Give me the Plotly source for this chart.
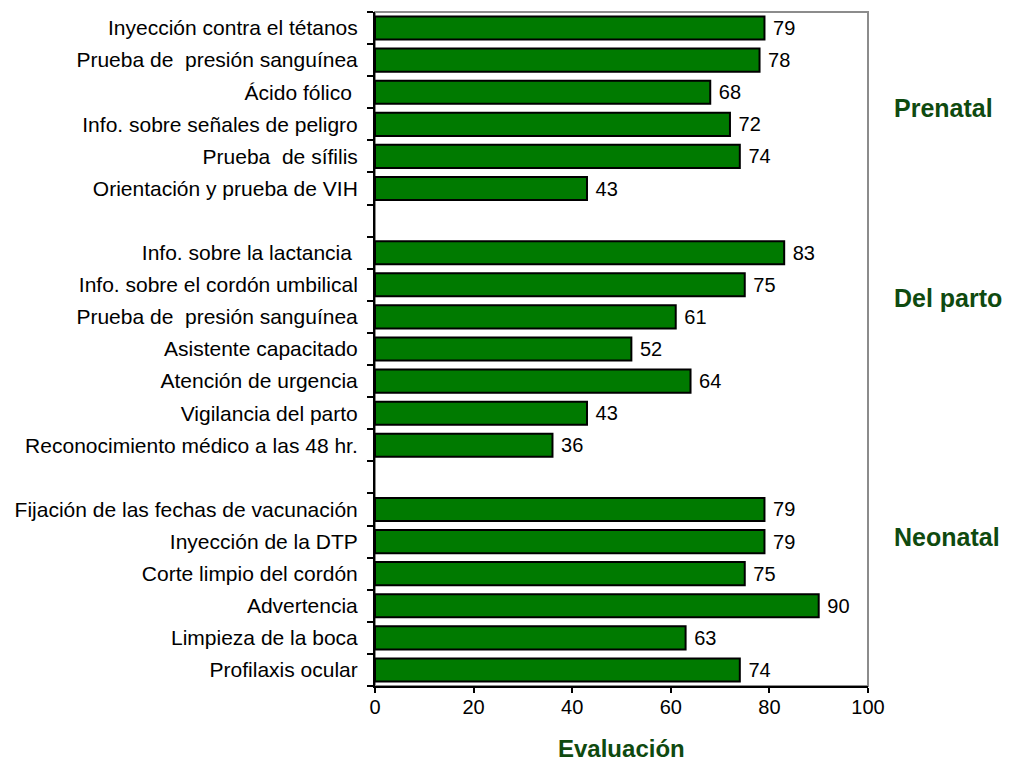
import plotly.graph_objects as go

# Service items and their scores, grouped by stage of care
prenatal_labels = [
    "Inyección contra el tétanos",
    "Prueba de \u00a0presión sanguínea",
    "Ácido fólico\u00a0",
    "Info. sobre señales de peligro",
    "Prueba \u00a0de sífilis",
    "Orientación y prueba de VIH",
]
prenatal_values = [79, 78, 68, 72, 74, 43]

parto_labels = [
    "Info. sobre la lactancia\u00a0",
    "Info. sobre el cordón umbilical",
    "Prueba de \u00a0presión sanguínea",
    "Asistente capacitado",
    "Atención de urgencia",
    "Vigilancia del parto",
    "Reconocimiento médico a las 48 hr.",
]
parto_values = [83, 75, 61, 52, 64, 43, 36]

neonatal_labels = [
    "Fijación de las fechas de vacunación",
    "Inyección de la DTP",
    "Corte limpio del cordón",
    "Advertencia",
    "Limpieza de la boca",
    "Profilaxis ocular",
]
neonatal_values = [79, 79, 75, 90, 63, 74]

group_names = ["Prenatal", "Del parto", "Neonatal"]
x_ticks = [0, 20, 40, 60, 80, 100]

# Lay the groups out top to bottom with one empty row between them
groups = [
    (prenatal_labels, prenatal_values),
    (parto_labels, parto_values),
    (neonatal_labels, neonatal_values),
]
positions, labels, values = [], [], []
row = 0
for g_labels, g_values in groups:
    for lab, val in zip(g_labels, g_values):
        positions.append(row)
        labels.append(lab)
        values.append(val)
        row += 1
    row += 1
last_row = positions[-1]

BAR = "#007a00"
DARK = "#0f4a0f"
FONT = "Liberation Sans, Arial, sans-serif"

fig = go.Figure(
    go.Bar(
        x=values,
        y=positions,
        orientation="h",
        width=0.72,
        marker=dict(color=BAR, line=dict(color="black", width=2)),
        text=values,
        texttemplate="\u00a0%{x}",
        textposition="outside",
        constraintext="none",
        cliponaxis=False,
        textfont=dict(family=FONT, size=20, color="black"),
        hoverinfo="skip",
    )
)

# Group titles on the right, placed beside their rows
label_rows = [2.5, 8.4, 15.85]
annotations = []
for name, yv in zip(group_names, label_rows):
    annotations.append(
        dict(
            text=f"<b>{name}</b>",
            xref="paper", yref="y",
            x=1, y=yv,
            xanchor="left", yanchor="middle",
            xshift=24,
            showarrow=False,
            font=dict(family=FONT, size=25, color=DARK),
        )
    )
annotations.append(
    dict(
        text="<b>Evaluación</b>",
        xref="paper", yref="paper",
        x=0.5, y=0,
        xanchor="center", yanchor="middle",
        yshift=-62,
        showarrow=False,
        font=dict(family=FONT, size=24, color=DARK),
    )
)

boundaries = [i - 0.5 for i in range(last_row + 2)]

fig.update_layout(
    width=1011,
    height=761,
    margin=dict(l=375, r=143, t=12, b=75),
    paper_bgcolor="white",
    plot_bgcolor="white",
    showlegend=False,
    font=dict(family=FONT, size=20, color="black"),
    annotations=annotations,
    shapes=[
        dict(
            type="rect", xref="paper", yref="paper",
            x0=0, x1=1, y0=0, y1=1,
            line=dict(color="#8c8c8c", width=2),
            layer="below",
        )
    ],
    xaxis=dict(
        range=[0, 100],
        tickmode="array",
        tickvals=x_ticks,
        ticks="outside",
        ticklen=5,
        tickwidth=2,
        tickcolor="black",
        ticklabelstandoff=-3,
        showline=True,
        linecolor="black",
        linewidth=2,
        showgrid=False,
        zeroline=False,
        tickfont=dict(family=FONT, size=20, color="black"),
        fixedrange=True,
    ),
    yaxis=dict(
        range=[last_row + 0.5, -0.5],
        tickmode="array",
        tickvals=positions,
        ticktext=labels,
        ticks="outside",
        ticklen=11,
        tickcolor="rgba(0,0,0,0)",
        minor=dict(
            tickmode="array",
            tickvals=boundaries,
            ticks="outside",
            ticklen=6,
            tickwidth=2,
            tickcolor="black",
            showgrid=False,
        ),
        showline=True,
        linecolor="black",
        linewidth=2,
        showgrid=False,
        zeroline=False,
        tickfont=dict(family=FONT, size=21, color="black"),
        fixedrange=True,
    ),
)

fig.write_html("out.html", config=dict(displayModeBar=False))
